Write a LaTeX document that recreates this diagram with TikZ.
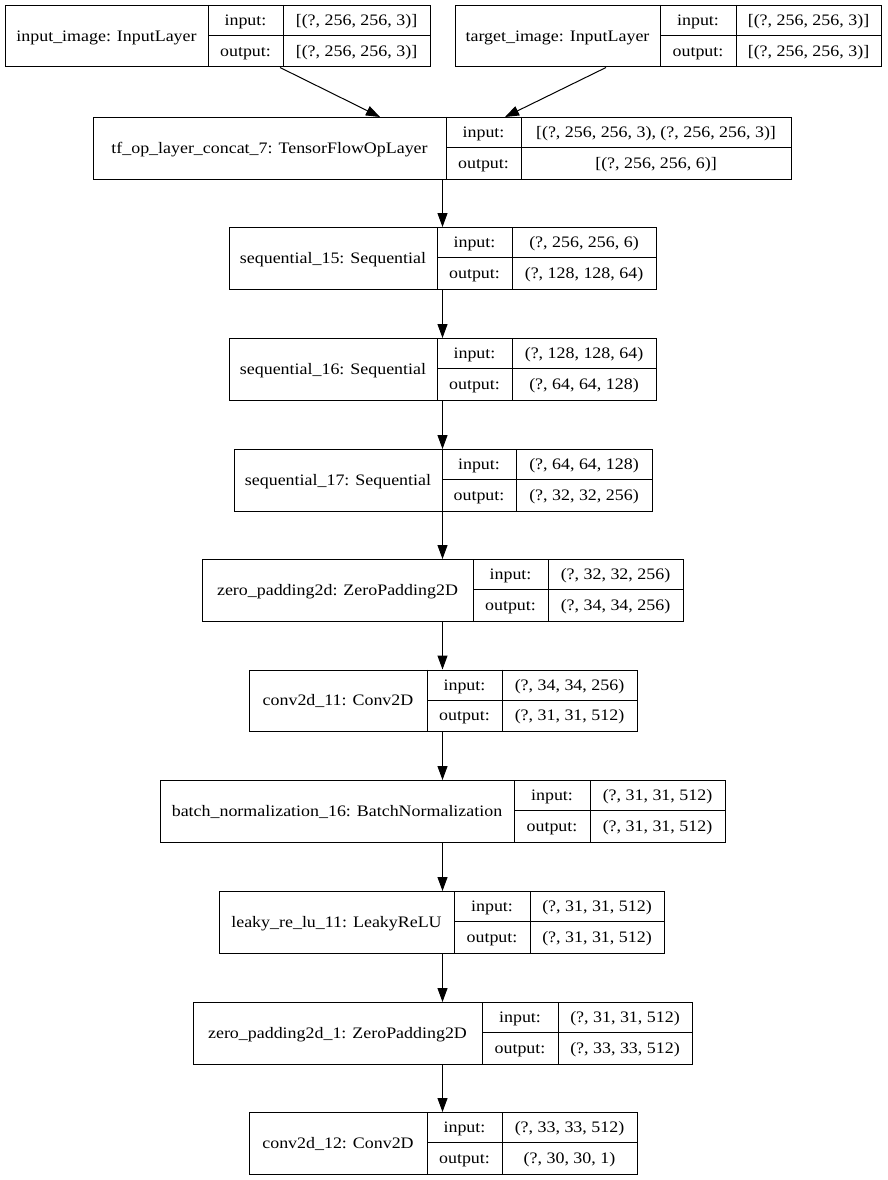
\documentclass[tikz,border=0pt]{standalone}
\usepackage{fontspec}
\setmainfont{Liberation Serif}[FakeStretch=1.12]
\usetikzlibrary{arrows.meta}
\tikzset{
  layerbox/.style={draw=black, line width=1pt, minimum height=61.5pt, inner sep=0pt, anchor=north west},
  cellline/.style={draw=black, line width=1pt},
  txt/.style={font=\fontsize{16}{19}\selectfont, inner sep=0pt, anchor=base},
  arr/.style={draw=black, line width=1pt, -{Triangle[length=14pt,width=10pt]}}
}
\newcommand\klayer[9]{%
  \node[layerbox, minimum width={#5-#2}] (#1) at (#2,#6) {};
  \draw[cellline] (#3,#6) -- (#3,{#6+61.5});
  \draw[cellline] (#4,#6) -- (#4,{#6+61.5});
  \draw[cellline] (#3,{#6+30.75}) -- (#5,{#6+30.75});
  \node[txt] (#1-l) at ({(#2+#3)/2},{#6+30.75+5.3}) {#7};
  \node[txt] (#1-a) at ({(#3+#4)/2},{#6+15.4+5.3}) {input:};
  \node[txt] (#1-b) at ({(#3+#4)/2},{#6+46.1+5.3}) {output:};
  \node[txt] (#1-c) at ({(#4+#5)/2},{#6+15.4+5.3}) {#8};
  \node[txt] (#1-d) at ({(#4+#5)/2},{#6+46.1+5.3}) {#9};
}
\begin{document}
\begin{tikzpicture}[x=1pt,y=-1pt]
\fill[white] (0,0) rectangle (887,1180);
\useasboundingbox (0,0) rectangle (887,1180);
\klayer{in1}{5}{208}{283}{430}{5}{input\_image: InputLayer}{[(?, 256, 256, 3)]}{[(?, 256, 256, 3)]}
\klayer{in2}{455}{660}{736}{881}{5}{target\_image: InputLayer}{[(?, 256, 256, 3)]}{[(?, 256, 256, 3)]}
\klayer{cat}{93}{446}{521}{791}{117}{tf\_op\_layer\_concat\_7: TensorFlowOpLayer}{[(?, 256, 256, 3), (?, 256, 256, 3)]}{[(?, 256, 256, 6)]}
\klayer{s15}{229}{437}{512}{656}{227}{sequential\_15: Sequential}{(?, 256, 256, 6)}{(?, 128, 128, 64)}
\klayer{s16}{229}{437}{512}{656}{338}{sequential\_16: Sequential}{(?, 128, 128, 64)}{(?, 64, 64, 128)}
\klayer{s17}{234}{442}{516}{652}{449}{sequential\_17: Sequential}{(?, 64, 64, 128)}{(?, 32, 32, 256)}
\klayer{zp}{202}{473}{548}{683}{559}{zero\_padding2d: ZeroPadding2D}{(?, 32, 32, 256)}{(?, 34, 34, 256)}
\klayer{c11}{249}{427}{502}{637}{669.5}{conv2d\_11: Conv2D}{(?, 34, 34, 256)}{(?, 31, 31, 512)}
\klayer{bn}{160}{514}{590}{725}{780}{batch\_normalization\_16: BatchNormalization}{(?, 31, 31, 512)}{(?, 31, 31, 512)}
\klayer{lr}{219}{454}{530}{664}{891}{leaky\_re\_lu\_11: LeakyReLU}{(?, 31, 31, 512)}{(?, 31, 31, 512)}
\klayer{zp1}{193}{482}{558}{692}{1002}{zero\_padding2d\_1: ZeroPadding2D}{(?, 31, 31, 512)}{(?, 33, 33, 512)}
\klayer{c12}{249}{427}{502}{637}{1112}{conv2d\_12: Conv2D}{(?, 33, 33, 512)}{(?, 30, 30, 1)}
% connectors
\draw[arr] ([xshift=275pt]in1.south west) -- ([xshift=287pt]cat.north west);
\draw[arr] ([xshift=151pt]in2.south west) -- ([xshift=412pt]cat.north west);
\draw[arr] (cat.south) -- (cat.south |- s15.north);
\draw[arr] (cat.south |- s15.south) -- (cat.south |- s16.north);
\draw[arr] (cat.south |- s16.south) -- (cat.south |- s17.north);
\draw[arr] (cat.south |- s17.south) -- (cat.south |- zp.north);
\draw[arr] (cat.south |- zp.south) -- (cat.south |- c11.north);
\draw[arr] (cat.south |- c11.south) -- (cat.south |- bn.north);
\draw[arr] (cat.south |- bn.south) -- (cat.south |- lr.north);
\draw[arr] (cat.south |- lr.south) -- (cat.south |- zp1.north);
\draw[arr] (cat.south |- zp1.south) -- (cat.south |- c12.north);
\end{tikzpicture}
\end{document}
